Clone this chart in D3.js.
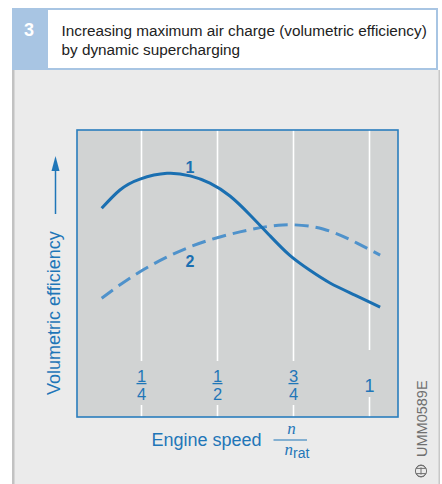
<!DOCTYPE html>
<html>
<head>
<meta charset="utf-8">
<script src="https://cdn.jsdelivr.net/npm/d3@7"></script>
<style>
  html, body { margin: 0; padding: 0; background: #ffffff; }
  svg { display: block; }
</style>
</head>
<body>
<svg id="chart" width="442" height="484"></svg>
<script>
// Figure number and caption
const figNumber = "3";
const titleLines = [
  "Increasing maximum air charge (volumetric efficiency)",
  "by dynamic supercharging"
];

// Engine speed as a fraction of rated speed (n / n_rat)
const speedTicks = [0.25, 0.5, 0.75, 1];
const tickNumerators = ["1", "1", "3", "1"];
const tickDenominators = ["4", "2", "4", ""];

// Curve 1: with dynamic supercharging (solid)
const curve1Speed = [0.119, 0.179, 0.245, 0.334, 0.410, 0.475, 0.541, 0.607, 0.673, 0.738, 0.804, 0.870, 0.952, 1.035];
const curve1Eff   = [0.727, 0.791, 0.829, 0.849, 0.840, 0.815, 0.770, 0.704, 0.631, 0.563, 0.511, 0.467, 0.425, 0.383];

// Curve 2: reference curve (dashed)
const curve2Speed = [0.119, 0.245, 0.410, 0.574, 0.715, 0.847, 0.959, 1.035];
const curve2Eff   = [0.414, 0.506, 0.593, 0.645, 0.669, 0.655, 0.606, 0.564];

const seriesNames = ["1", "2"];
const labelSpeed = [0.409, 0.409];
const labelEff   = [0.851, 0.524];

// ---- layout & style ----
const W = 442, H = 484;
const plot = { left: 77, right: 398, top: 130, bottom: 417 };
const blue = "#1f76b8";
const lineDark = "#1a6fb1";
const lineLight = "#4f92cb";
const plotFill = "#d1d3d3";
const panelFill = "#ebebeb";
const bandFill = "#a8c5e3";

const svg = d3.select("#chart");

const x = d3.scaleLinear().domain([0, 1]).range([65.5, 369.5]);
const y = d3.scaleLinear().domain([0, 1]).range([plot.bottom, plot.top]);

// ---- panel and caption band ----
svg.append("rect").attr("x", 0).attr("y", 0).attr("width", W).attr("height", H).attr("fill", "#ffffff");
svg.append("rect").attr("x", 12).attr("y", 70).attr("width", 428).attr("height", H - 70).attr("fill", panelFill);
svg.append("rect").attr("x", 12).attr("y", 70).attr("width", 2.5).attr("height", H - 70).attr("fill", "#c2c2c2");
svg.append("rect").attr("x", 438.5).attr("y", 70).attr("width", 1.5).attr("height", H - 70).attr("fill", "#c8c8c8");

svg.append("rect").attr("x", 12).attr("y", 8).attr("width", 426).attr("height", 62).attr("fill", bandFill);
svg.append("rect").attr("x", 48).attr("y", 10).attr("width", 388).attr("height", 58).attr("fill", "#ffffff");

svg.append("text")
  .attr("x", 29).attr("y", 35.5)
  .attr("text-anchor", "middle")
  .attr("font-family", "Liberation Sans, Arial, sans-serif")
  .attr("font-weight", "bold")
  .attr("font-size", 18)
  .attr("fill", "#ffffff")
  .text(figNumber);

svg.append("g").selectAll("text")
  .data(titleLines)
  .join("text")
  .attr("x", 61.5)
  .attr("y", (d, i) => 35.5 + i * 19.5)
  .attr("font-family", "Liberation Sans, Arial, sans-serif")
  .attr("font-size", 15.3)
  .attr("fill", "#222222")
  .text(d => d);

// ---- plot area ----
svg.append("rect")
  .attr("x", plot.left).attr("y", plot.top)
  .attr("width", plot.right - plot.left).attr("height", plot.bottom - plot.top)
  .attr("fill", plotFill);

// vertical grid lines, interrupted where the tick labels sit
const tickData = speedTicks.map((v, i) => ({
  v, num: tickNumerators[i], den: tickDenominators[i]
}));

const grid = svg.append("g");
tickData.forEach(t => {
  const gx = x(t.v);
  const gap = t.den ? [361, 405] : [350, 397];
  [[plot.top, gap[0]], [gap[1], plot.bottom]].forEach(seg => {
    grid.append("line")
      .attr("x1", gx).attr("x2", gx)
      .attr("y1", seg[0]).attr("y2", seg[1])
      .attr("stroke", "#ffffff")
      .attr("stroke-width", 1.6);
  });
});

// tick labels (fractions of rated speed)
const ticks = svg.append("g")
  .attr("font-family", "Liberation Sans, Arial, sans-serif")
  .attr("fill", blue)
  .attr("text-anchor", "middle");
tickData.forEach(t => {
  const gx = x(t.v);
  if (t.den) {
    ticks.append("text").attr("x", gx).attr("y", 381.5).attr("font-size", 16.5).text(t.num);
    ticks.append("line")
      .attr("x1", gx - 5).attr("x2", gx + 5)
      .attr("y1", 383.6).attr("y2", 383.6)
      .attr("stroke", blue).attr("stroke-width", 1.3);
    ticks.append("text").attr("x", gx).attr("y", 400).attr("font-size", 16.5).text(t.den);
  } else {
    ticks.append("text").attr("x", gx).attr("y", 391.5).attr("font-size", 18).text(t.num);
  }
});

// plot frame
svg.append("rect")
  .attr("x", plot.left).attr("y", plot.top)
  .attr("width", plot.right - plot.left).attr("height", plot.bottom - plot.top)
  .attr("fill", "none")
  .attr("stroke", "#2a7dbd")
  .attr("stroke-width", 1.6);

// ---- curves ----
const line = d3.line()
  .x(d => x(d[0]))
  .y(d => y(d[1]))
  .curve(d3.curveNatural);

const curve2 = d3.zip(curve2Speed, curve2Eff);
const curve1 = d3.zip(curve1Speed, curve1Eff);

svg.append("path")
  .attr("d", line(curve2))
  .attr("fill", "none")
  .attr("stroke", lineLight)
  .attr("stroke-width", 3)
  .attr("stroke-dasharray", "14 7");

svg.append("path")
  .attr("d", line(curve1))
  .attr("fill", "none")
  .attr("stroke", lineDark)
  .attr("stroke-width", 3)
  .attr("stroke-linecap", "butt");

svg.append("g").selectAll("text")
  .data(seriesNames)
  .join("text")
  .attr("x", (d, i) => x(labelSpeed[i]))
  .attr("y", (d, i) => y(labelEff[i]))
  .attr("text-anchor", "middle")
  .attr("font-family", "Liberation Sans, Arial, sans-serif")
  .attr("font-weight", "bold")
  .attr("font-size", 16)
  .attr("fill", lineDark)
  .text(d => d);

// ---- axis titles ----
// y: rotated label with upward arrow
svg.append("text")
  .attr("transform", "translate(60,395) rotate(-90)")
  .attr("font-family", "Liberation Sans, Arial, sans-serif")
  .attr("font-size", 18)
  .attr("fill", blue)
  .text("Volumetric efficiency");
svg.append("line")
  .attr("x1", 55.5).attr("x2", 55.5)
  .attr("y1", 214).attr("y2", 168)
  .attr("stroke", blue).attr("stroke-width", 1.5);
svg.append("path")
  .attr("d", "M55.5,156 L51.5,171 L59.5,171 Z")
  .attr("fill", blue);

// x: "Engine speed n / n_rat"
const xt = svg.append("g").attr("fill", blue);
xt.append("text")
  .attr("x", 151.5).attr("y", 446)
  .attr("font-family", "Liberation Sans, Arial, sans-serif")
  .attr("font-size", 18)
  .text("Engine speed");
xt.append("text")
  .attr("x", 291.5).attr("y", 434)
  .attr("text-anchor", "middle")
  .attr("font-family", "Liberation Serif, Times New Roman, serif")
  .attr("font-style", "italic")
  .attr("font-size", 17)
  .text("n");
xt.append("line")
  .attr("x1", 273.5).attr("x2", 307)
  .attr("y1", 440).attr("y2", 440)
  .attr("stroke", blue).attr("stroke-width", 1.2);
const den = xt.append("text")
  .attr("x", 284.5).attr("y", 455);
den.append("tspan")
  .attr("font-family", "Liberation Serif, Times New Roman, serif")
  .attr("font-style", "italic")
  .attr("font-size", 17)
  .text("n");
den.append("tspan")
  .attr("dy", 3)
  .attr("font-family", "Liberation Sans, Arial, sans-serif")
  .attr("font-size", 14)
  .text("rat");

// ---- figure code and publisher mark ----
svg.append("text")
  .attr("transform", "translate(426.5,457) rotate(-90)")
  .attr("font-family", "Liberation Sans, Arial, sans-serif")
  .attr("font-size", 14.5)
  .attr("fill", "#707070")
  .text("UMM0589E");

const logo = svg.append("g")
  .attr("transform", "translate(421,471) rotate(-90)")
  .attr("fill", "none")
  .attr("stroke", "#707070")
  .attr("stroke-width", 1);
logo.append("circle").attr("r", 5.6);
logo.append("path").attr("d", "M-2.6,-4.9 A5.2,5.2 0 0 0 -2.6,4.9 M2.6,-4.9 A5.2,5.2 0 0 1 2.6,4.9");
logo.append("line").attr("x1", -3.6).attr("x2", 3.6).attr("y1", 0).attr("y2", 0);
logo.append("line").attr("x1", -2.6).attr("x2", -2.6).attr("y1", -4.9).attr("y2", 4.9);
logo.append("line").attr("x1", 2.6).attr("x2", 2.6).attr("y1", -4.9).attr("y2", 4.9);
</script>
</body>
</html>
